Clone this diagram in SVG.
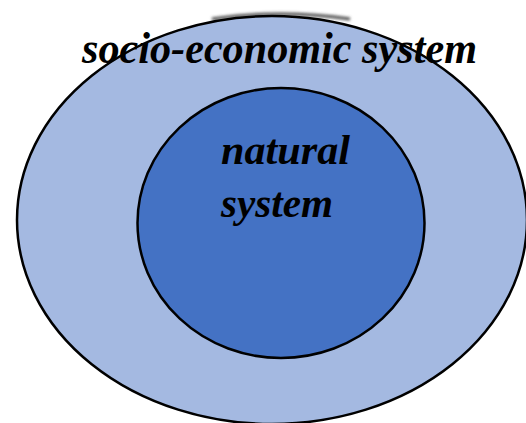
<svg xmlns="http://www.w3.org/2000/svg" width="526" height="423" viewBox="0 0 526 423">
<style>
.ring{stroke:#000;stroke-width:2.5}
.lbl{font-family:"Liberation Serif",serif;font-weight:700;font-style:italic;fill:#000}
</style>
<defs>
<filter id="blur" x="-20%" y="-100%" width="140%" height="300%"><feGaussianBlur stdDeviation="1.8"/></filter>
</defs>
<rect width="526" height="423" fill="#fff"/>
<g id="outer">
<path d="M212,19 Q280,9 350,19" fill="none" stroke="#4a4a4a" stroke-width="3" filter="url(#blur)"/>
<ellipse class="ring" cx="272" cy="220" rx="255" ry="204" fill="#A4B9E1"/>
<text class="lbl" x="82" y="63" font-size="45" textLength="395" lengthAdjust="spacingAndGlyphs">socio-economic system</text>
</g>
<g id="inner">
<ellipse class="ring" cx="281" cy="223" rx="143.5" ry="135" fill="#4472C4"/>
<text class="lbl" x="221" y="164" font-size="42" textLength="129" lengthAdjust="spacingAndGlyphs">natural</text>
<text class="lbl" x="221" y="217" font-size="42" textLength="112" lengthAdjust="spacingAndGlyphs">system</text>
</g>
<g id="connectors"/>
</svg>
